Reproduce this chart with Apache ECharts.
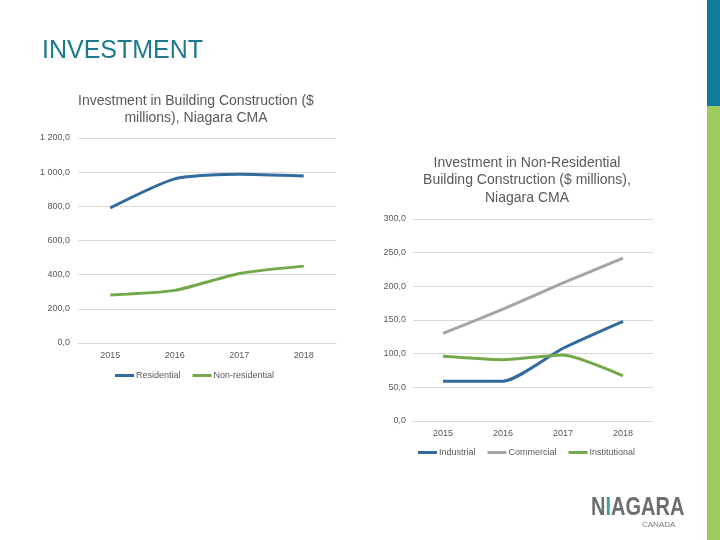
<!DOCTYPE html>
<html><head><meta charset="utf-8">
<script src="https://cdn.jsdelivr.net/npm/echarts@6/dist/echarts.min.js"></script>
<style>html,body{margin:0;padding:0;background:#fff}#c{width:720px;height:540px}</style>
</head><body><div id="c"></div>
<script>
const years = ['2015','2016','2017','2018'];
const residential = [791, 961, 988, 978];
const nonResidential = [281, 308, 407, 450];
const industrial = [59, 59, 108, 148];
const commercial = [130, 166, 205, 242];
const institutional = [96, 91, 98, 67];
const leftTicks = {min:0, max:1200, interval:200};
const rightTicks = {min:0, max:300, interval:50};

const FONT = '"Liberation Sans", Arial, sans-serif';
const BLUE = '#336b9e', GRAY = '#a5a5a5', GREEN = '#74a84a';
function fmt(v){
  const s = v.toFixed(1).replace('.', ',');
  const [i, d] = s.split(',');
  return i.replace(/\B(?=(\d{3})+(?!\d))/g, ' ') + ',' + d;
}
const axisLabel = {color:'#595959', fontSize:9, fontFamily:FONT};
function line(name, data, color, xi){
  return {name, type:'line', data, xAxisIndex:xi, yAxisIndex:xi, symbol:'none', smooth:0.2,
    lineStyle:{color, width:3}, itemStyle:{color}};
}
const chart = echarts.init(document.getElementById('c'), null, {renderer:'canvas'});
chart.setOption({
  animation:false,
  textStyle:{fontFamily:FONT},
  title:[
    {text:'Investment in Building Construction ($\nmillions), Niagara CMA', left:191, top:88, textAlign:'center',
     textStyle:{fontSize:14, fontWeight:'normal', color:'#595959', lineHeight:17, fontFamily:FONT}},
    {text:'Investment in Non-Residential\nBuilding Construction ($ millions),\nNiagara CMA', left:522, top:149, textAlign:'center',
     textStyle:{fontSize:14, fontWeight:'normal', color:'#595959', lineHeight:17.5, fontFamily:FONT}}
  ],
  legend:[
    {data:['Residential','Non-residential'], left:110, top:366, itemWidth:19, itemHeight:3, itemGap:12,
     icon:'rect', textStyle:{fontSize:9, color:'#595959', padding:[0,0,0,-3]}},
    {data:['Industrial','Commercial','Institutional'], left:413, top:443, itemWidth:19, itemHeight:3, itemGap:12,
     icon:'rect', textStyle:{fontSize:9, color:'#595959', padding:[0,0,0,-3]}}
  ],
  grid:[
    {left:78, top:138, width:258, height:205, containLabel:false},
    {left:413, top:219, width:240, height:202, containLabel:false}
  ],
  xAxis:[
    {type:'category', data:years, gridIndex:0, axisLine:{lineStyle:{color:'#d9d9d9'}}, axisTick:{show:false},
     axisLabel:Object.assign({margin:8}, axisLabel)},
    {type:'category', data:years, gridIndex:1, axisLine:{lineStyle:{color:'#d9d9d9'}}, axisTick:{show:false},
     axisLabel:Object.assign({margin:8}, axisLabel)}
  ],
  yAxis:[
    Object.assign({type:'value', gridIndex:0, axisLine:{show:false}, axisTick:{show:false},
     splitLine:{lineStyle:{color:'#d9d9d9'}}, axisLabel:Object.assign({margin:8, formatter:fmt}, axisLabel)}, leftTicks),
    Object.assign({type:'value', gridIndex:1, axisLine:{show:false}, axisTick:{show:false},
     splitLine:{lineStyle:{color:'#d9d9d9'}}, axisLabel:Object.assign({margin:7, formatter:fmt}, axisLabel)}, rightTicks)
  ],
  series:[
    line('Residential', residential, BLUE, 0),
    line('Non-residential', nonResidential, GREEN, 0),
    line('Industrial', industrial, BLUE, 1),
    line('Commercial', commercial, GRAY, 1),
    line('Institutional', institutional, GREEN, 1)
  ],
  graphic:[
    {type:'rect', shape:{x:707, y:0, width:13, height:106}, style:{fill:'#117a9b'}},
    {type:'rect', shape:{x:707, y:106, width:13, height:434}, style:{fill:'#9dcc5c'}},
    {type:'text', x:42, y:39, style:{text:'INVESTMENT', fill:'#1b7a8e', font:'25px "Liberation Sans", Arial, sans-serif'}},
    {type:'text', x:591, y:496, scaleX:0.8, style:{
      text:'{a|N}{b|I}{a|AGARA}', rich:{
        a:{fill:'#6d6e71', font:'bold 25px "Liberation Sans", Arial, sans-serif'},
        b:{fill:'#3aa39a', font:'bold 25px "Liberation Sans", Arial, sans-serif'}}}},
    {type:'text', x:642, y:521, style:{text:'CANADA', fill:'#7a7b7e', font:'8px "Liberation Sans", Arial, sans-serif', letterSpacing:2}}
  ]
});
</script></body></html>
